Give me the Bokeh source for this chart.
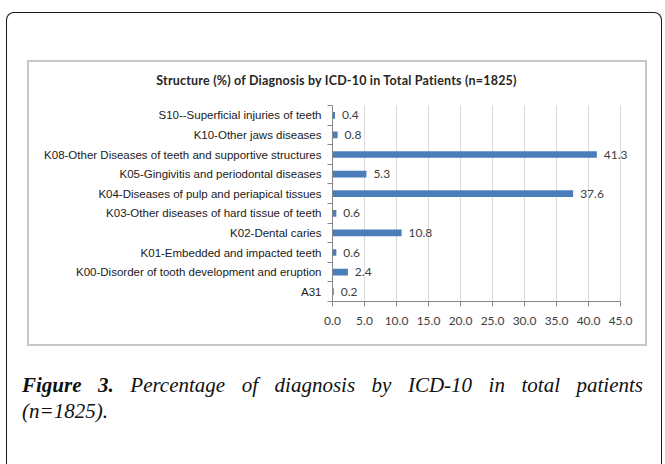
from bokeh.plotting import figure
from bokeh.layouts import column
from bokeh.models import (LabelSet, ColumnDataSource, FixedTicker, Div,
                          CustomJSTickFormatter, NumeralTickFormatter, Range1d)
from bokeh.core.properties import value
from bokeh.embed import file_html
from bokeh.resources import INLINE

# ---------------- data ----------------
categories = [
    "S10--Superficial injuries of teeth",
    "K10-Other jaws diseases",
    "K08-Other Diseases of teeth and supportive structures",
    "K05-Gingivitis and periodontal diseases",
    "K04-Diseases of pulp and periapical tissues",
    "K03-Other diseases of hard tissue of teeth",
    "K02-Dental caries",
    "K01-Embedded and impacted teeth",
    "K00-Disorder of tooth development and eruption",
    "A31",
]
values = [0.4, 0.8, 41.3, 5.3, 37.6, 0.6, 10.8, 0.6, 2.4, 0.2]
x_ticks = [0, 5, 10, 15, 20, 25, 30, 35, 40, 45]
x_axis_end = 45
title_text = "Structure (%) of Diagnosis by ICD-10 in Total Patients (n=1825)"
caption_bold = "Figure 3."
caption_line1 = "Percentage of diagnosis by ICD-10 in total patients"
caption_line2 = "(n=1825)."

# ---------------- layout ----------------
W, H = 665, 464
FRAME_L, FRAME_T, FRAME_B = 332, 105, 301   # canvas px
PX_PER_UNIT = 6.4
FRAME_R = 633                               # a bit beyond the 45 gridline so labels are not clipped
x_view_end = (FRAME_R - FRAME_L) / PX_PER_UNIT

n = len(categories)
pos = [n - 1 - i + 0.5 for i in range(n)]
bottom_up = [None] * n
for i, c in enumerate(categories):
    bottom_up[n - 1 - i] = c

src = ColumnDataSource(dict(y=pos, v=values, t=[f"{v:.1f}" for v in values]))

p = figure(width=W, height=H, output_backend="svg", toolbar_location=None,
           x_range=Range1d(0, x_view_end), y_range=Range1d(0, n),
           min_border_left=FRAME_L, min_border_right=W - FRAME_R,
           min_border_top=FRAME_T, min_border_bottom=H - FRAME_B)
p.outline_line_color = None
p.background_fill_color = None
p.border_fill_color = None

p.hbar(y="y", left=0, right="v", height=0.34, source=src,
       fill_color="#4A7EBB", line_color=None)

p.add_layout(LabelSet(x="v", y="y", text="t", source=src, x_offset=7,
                      text_baseline="middle", text_font=value("Lato"),
                      text_font_size="12px", text_color="#404040"))

# x axis
xa = p.xaxis[0]
xa.ticker = FixedTicker(ticks=x_ticks)
xa.bounds = (0, x_axis_end)
xa.formatter = NumeralTickFormatter(format="0.0")
xa.axis_line_color = "#868686"
xa.major_tick_line_color = "#868686"
xa.major_tick_out = 5
xa.major_tick_in = 0
xa.minor_tick_line_color = None
xa.major_label_standoff = 10
xa.major_label_text_font = "Lato"
xa.major_label_text_font_size = "12px"
xa.major_label_text_color = "#404040"

p.xgrid.grid_line_color = "#d9d9d9"
p.xgrid.bounds = (0, x_axis_end)
p.ygrid.visible = False

# y axis
ya = p.yaxis[0]
ya.ticker = FixedTicker(ticks=pos, minor_ticks=list(range(n + 1)))
ya.formatter = CustomJSTickFormatter(args=dict(labels=bottom_up),
                                     code="return labels[Math.floor(tick)];")
ya.axis_line_color = "#868686"
ya.major_tick_line_color = None
ya.major_tick_out = 0
ya.major_tick_in = 0
ya.minor_tick_line_color = "#868686"
ya.minor_tick_out = 5
ya.minor_tick_in = 0
ya.major_label_standoff = 6
ya.major_label_text_font = "Liberation Sans"
ya.major_label_text_font_size = "11.5px"
ya.major_label_text_color = "#1a1a1a"

# ---------------- frame decorations, title and caption (HTML) ----------------
html = f"""
<div style="position:relative;width:{W}px;height:{H}px;">
  <div style="position:absolute;left:6px;top:12px;width:656px;height:452px;box-sizing:border-box;
              border:1.5px solid #1a1a1a;border-bottom:none;border-radius:8px 8px 0 0;"></div>
  <div style="position:absolute;left:27px;top:60px;width:620px;height:286px;box-sizing:border-box;
              border:2px solid #c8c8c8;"></div>
  <div style="position:absolute;left:136.5px;top:73.5px;width:400px;text-align:center;
              font-family:Lato;font-weight:bold;font-size:12.5px;line-height:14px;color:#262626;
              letter-spacing:0.2px;white-space:nowrap;">{title_text}</div>
  <div style="position:absolute;left:22px;top:372px;width:621px;font-family:'Liberation Serif';
              font-style:italic;font-size:21px;line-height:26px;color:#111;">
    <div style="text-align:justify;text-align-last:justify;"><b>{caption_bold}</b> {caption_line1}</div>
    <div>{caption_line2}</div>
  </div>
</div>
"""
deco = Div(text=html, width=W, height=H, margin=0)
p.margin = (-H, 0, 0, 0)

layout = column(deco, p, width=W, height=H, margin=0)
open("out.html", "w").write(file_html(layout, INLINE))
